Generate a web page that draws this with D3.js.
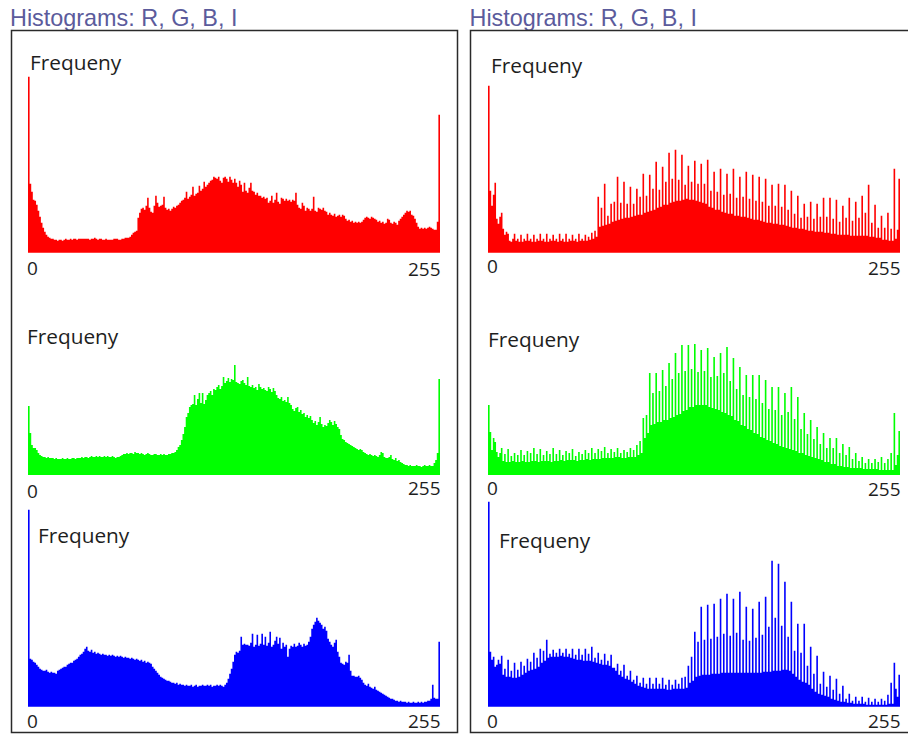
<!DOCTYPE html>
<html>
<head>
<meta charset="utf-8">
<script src="https://cdn.jsdelivr.net/npm/d3@7"></script>
<style>
  html, body { margin: 0; padding: 0; background: #ffffff; }
  svg { display: block; }
</style>
</head>
<body>
<svg id="chart" width="908" height="734"></svg>
<script>
// ---- Data: 256-bin intensity histograms (relative frequency, arbitrary units) ----
const panelTitle = "Histograms: R, G, B, I";
const axisTitle = "Frequeny";
const binLabels = ["0", "255"];

// Original image
const origRed = [
  176,69,61,53,52,48,42,36,30,25,21,18,16,15,14,14,
  13,13,12,13,13,12,13,14,13,13,14,13,14,14,13,14,
  14,14,14,14,14,14,13,14,14,15,14,13,14,14,13,13,
  14,13,13,13,13,14,14,14,13,13,14,14,15,15,15,16,
  18,20,21,22,35,40,44,45,43,47,55,45,41,40,47,57,
  50,46,47,48,56,45,43,44,42,44,46,45,47,48,50,52,
  53,55,61,54,56,58,66,57,59,60,67,62,64,71,66,68,
  70,72,73,76,75,74,76,72,70,75,76,74,71,76,73,70,
  74,70,66,72,68,61,70,62,60,65,70,62,61,58,60,57,
  57,55,56,54,55,50,52,57,50,53,60,51,49,55,54,52,
  54,52,53,51,53,52,60,48,45,44,50,47,42,45,44,42,
  44,56,42,41,45,44,43,45,42,41,38,40,38,37,39,36,
  37,38,36,38,37,34,32,33,31,32,30,31,30,31,30,31,
  33,35,36,35,34,36,35,34,33,31,32,30,31,29,30,34,
  33,30,29,31,30,28,32,34,36,38,40,42,41,42,38,37,
  34,30,26,24,25,24,25,24,25,26,25,24,23,23,31,138
];
const origGreen = [
  69,42,30,27,27,25,22,20,19,18,18,17,18,17,17,17,
  16,17,16,16,16,17,16,16,17,16,16,17,17,16,17,17,
  17,18,17,18,18,17,18,19,18,18,19,18,19,18,18,19,
  18,19,18,18,19,18,17,18,18,19,20,21,21,22,21,22,
  22,21,23,22,22,21,22,21,20,21,22,21,20,20,21,21,
  20,20,21,20,21,20,20,21,21,22,22,23,25,28,30,35,
  41,48,58,62,68,70,71,80,70,76,82,72,82,71,75,80,
  82,84,80,86,85,88,90,86,89,98,92,94,97,93,96,95,
  110,93,92,91,94,95,92,90,98,89,88,90,87,88,85,91,
  88,86,87,85,84,88,86,83,87,84,80,77,76,78,74,75,
  73,78,72,70,66,64,67,68,63,65,61,62,58,60,57,59,
  55,52,54,50,53,58,51,48,50,49,52,55,53,50,54,51,
  48,46,40,36,35,33,32,31,30,29,28,27,26,25,26,25,
  23,22,21,20,21,20,19,20,19,18,20,23,22,18,17,17,
  18,20,16,15,17,14,15,13,12,11,10,10,9,10,9,9,
  9,10,9,9,8,9,10,9,9,10,9,9,12,15,22,96
];
const origBlue = [
  197,48,47,45,44,42,40,38,37,36,36,37,35,34,35,34,
  34,33,36,37,38,39,40,40,42,43,44,44,46,47,48,50,
  52,53,55,58,60,56,55,57,54,55,53,54,53,52,53,52,
  52,51,52,51,52,51,50,51,50,51,50,49,50,49,49,48,
  49,48,47,48,47,46,47,45,46,44,45,44,43,40,38,36,
  34,32,30,29,28,27,26,26,25,24,24,23,24,22,23,22,
  22,21,22,21,21,22,20,21,22,20,21,21,22,21,21,22,
  21,22,20,21,21,22,21,22,21,20,22,24,28,33,38,45,
  52,55,54,56,70,62,63,62,62,61,64,73,60,62,72,61,
  63,73,62,70,61,64,75,60,62,66,70,63,69,58,64,60,
  62,50,58,61,60,63,60,61,64,62,60,63,61,62,65,70,
  78,82,85,89,86,84,82,78,80,76,68,65,62,60,64,67,
  55,50,44,43,42,45,44,52,36,31,31,30,30,31,29,27,
  24,22,21,23,20,19,18,20,17,16,15,14,13,12,11,10,
  9,8,8,7,6,6,5,6,5,5,5,4,5,4,4,5,
  4,4,5,4,5,4,5,5,6,6,8,22,9,8,8,65
];

// Contrast-stretched image (comb-shaped histograms)
const stretchRed = [
  167,62,47,58, 70,34,29,36, 40,24,18,21, 19,12,11,14,
  19,12,14,11, 18,11,14,12, 19,12,14,11, 18,11,14,12,
  19,12,14,11, 19,11,14,12, 18,12,14,11, 19,12,14,11,
  19,11,14,12, 18,12,14,11, 19,12,14,12, 18,12,16,13,
  20,14,22,16, 56,26,45,27, 69,28,37,29, 49,31,51,32,
  76,33,50,34, 71,35,49,35, 66,36,49,37, 64,38,56,38,
  79,40,57,41, 78,42,64,43, 91,45,63,46, 86,48,71,48,
  100,50,74,51, 103,52,73,52, 98,53,68,54, 87,53,71,53,
  92,52,69,51, 89,50,69,49, 93,46,62,45, 81,43,61,43,
  84,41,58,40, 79,39,59,39, 84,37,55,37, 76,36,56,36,
  81,35,54,34, 78,33,52,33, 76,32,51,31, 74,30,47,30,
  68,29,47,29, 69,28,46,28, 68,27,43,26, 62,25,39,25,
  57,24,35,24, 49,23,36,22, 51,22,34,21, 49,21,36,21,
  55,20,36,20, 55,19,34,19, 53,18,31,18, 47,18,35,18,
  55,17,32,17, 51,17,35,17, 57,17,40,17, 68,16,30,16,
  48,15,25,15, 37,13,25,13, 40,12,24,12, 84,14,23,74
];
const stretchGreen = [
  70,43,25,37, 33,23,18,22, 27,14,21,13, 26,13,19,14,
  22,13,20,13, 25,14,20,13, 24,13,22,14, 27,14,21,13,
  26,14,20,14, 24,14,21,13, 27,14,21,14, 25,15,20,14,
  24,15,22,15, 26,15,19,14, 23,15,21,15, 25,16,22,15,
  27,16,22,16, 26,16,24,17, 28,17,22,17, 26,17,23,18,
  27,18,22,17, 25,17,23,18, 27,18,25,18, 30,20,34,22,
  57,37,60,42, 102,50,82,51, 102,53,84,53, 105,55,89,55,
  112,57,96,58, 122,60,102,61, 130,64,104,65, 130,68,106,68,
  131,70,103,70, 125,70,104,70, 127,68,98,67, 118,66,99,65,
  122,63,102,62, 128,60,94,59, 117,55,86,54, 108,50,80,49,
  100,46,78,45, 100,42,76,41, 100,38,72,37, 95,35,66,34,
  88,32,65,31, 88,29,60,28, 82,27,63,26, 88,25,56,24,
  78,22,46,22, 62,20,41,19, 55,18,36,17, 48,16,31,15,
  42,13,27,13, 37,11,27,11, 37,9,22,9, 31,8,20,8,
  28,7,16,7, 22,7,14,7, 18,6,12,6, 16,6,12,6,
  16,6,13,5, 18,5,12,5, 16,5,22,5, 62,10,20,44
];
const stretchBlue = [
  205,55,47,50, 40,42,47,43, 51,32,38,30, 47,30,36,29,
  44,29,37,30, 45,32,41,34, 48,36,45,37, 54,38,49,40,
  58,44,56,46, 67,49,53,50, 57,50,54,50, 58,51,54,50,
  58,50,53,49, 58,48,52,47, 58,47,52,46, 58,46,53,46,
  60,45,49,44, 54,43,47,42, 53,42,46,41, 52,39,39,36,
  43,32,36,30, 42,28,31,27, 36,25,27,23, 31,21,24,20,
  29,19,23,18, 29,18,23,18, 29,18,23,18, 29,18,22,17,
  27,17,22,18, 27,18,23,18, 29,18,30,19, 41,24,50,26,
  75,30,65,31, 100,32,67,32, 102,32,68,33, 103,33,70,33,
  108,34,73,34, 113,34,71,34, 108,34,74,34, 115,34,67,34,
  100,34,66,34, 98,34,69,34, 105,34,72,35, 110,35,80,35,
  146,36,89,36, 143,36,81,37, 125,37,70,36, 105,33,56,30,
  83,27,54,25, 83,24,41,22, 60,18,33,15, 51,13,23,12,
  35,11,20,10, 31,8,17,7, 28,6,13,5, 21,5,8,4,
  13,4,6,3, 10,3,6,3, 10,3,5,2, 9,2,5,2,
  8,2,5,2, 8,2,6,2, 12,3,24,3, 44,18,10,32
];

// ---- Layout ----
const W = 908, H = 734;
const PLOT_W = 412;        // width of the 256-bin strip
const FREQ_MAX = 200;      // value mapped to the full strip height
const STRIP_H = 200;

const panels = [
  {
    titleX: 10, box: { x: 11.5, y: 30.5, w: 446, h: 702 }, plotX: 28,
    hists: [
      { values: origRed,   color: "#ff0000", base: 252.7, freq: [30, 70],  zeroY: 275, maxY: 276 },
      { values: origGreen, color: "#00ff00", base: 475,   freq: [27, 344], zeroY: 498, maxY: 495 },
      { values: origBlue,  color: "#0000ff", base: 706.7, freq: [38, 543], zeroY: 728, maxY: 728 }
    ]
  },
  {
    titleX: 469.5, box: { x: 470.5, y: 30.5, w: 460, h: 702 }, plotX: 488,
    hists: [
      { values: stretchRed,   color: "#ff0000", base: 252.7, freq: [491, 73],  zeroY: 273, maxY: 275 },
      { values: stretchGreen, color: "#00ff00", base: 475,   freq: [488, 347], zeroY: 495, maxY: 496 },
      { values: stretchBlue,  color: "#0000ff", base: 706.7, freq: [499, 548], zeroY: 728, maxY: 728 }
    ]
  }
];

const svg = d3.select("#chart").attr("viewBox", `0 0 ${W} ${H}`);

panels.forEach(p => {
  svg.append("text")
    .attr("x", p.titleX).attr("y", 26)
    .attr("font-family", "'Liberation Sans', Arial, sans-serif")
    .attr("font-size", 23.4)
    .attr("fill", "#5b5b9c")
    .text(panelTitle);

  svg.append("rect")
    .attr("x", p.box.x).attr("y", p.box.y)
    .attr("width", p.box.w).attr("height", p.box.h)
    .attr("fill", "none").attr("stroke", "#2a2a2a").attr("stroke-width", 1.5);

  p.hists.forEach(h => {
    const x = d3.scaleLinear().domain([0, 256]).range([p.plotX, p.plotX + PLOT_W]);
    const y = d3.scaleLinear().domain([0, FREQ_MAX]).range([h.base, h.base - STRIP_H]);
    const pts = h.values.map((v, i) => [i, v]).concat([[256, h.values[255]]]);

    const area = d3.area()
      .x(d => x(d[0]))
      .y0(y(0))
      .y1(d => y(d[1]))
      .curve(d3.curveStepAfter);

    svg.append("path")
      .datum(pts)
      .attr("d", area)
      .attr("fill", h.color);

    const g = svg.append("g")
      .attr("font-family", "'Open Sans', 'Noto Sans', sans-serif")
      .attr("fill", "#1e1e1e");

    g.append("text")
      .attr("x", h.freq[0]).attr("y", h.freq[1])
      .attr("font-size", 20.8)
      .text(axisTitle);

    g.append("text")
      .attr("x", x(0) - 1).attr("y", h.zeroY)
      .attr("font-size", 19)
      .text(binLabels[0]);

    g.append("text")
      .attr("x", x(256) + 0.5).attr("y", h.maxY)
      .attr("font-size", 19)
      .attr("text-anchor", "end")
      .text(binLabels[1]);
  });
});
</script>
</body>
</html>
